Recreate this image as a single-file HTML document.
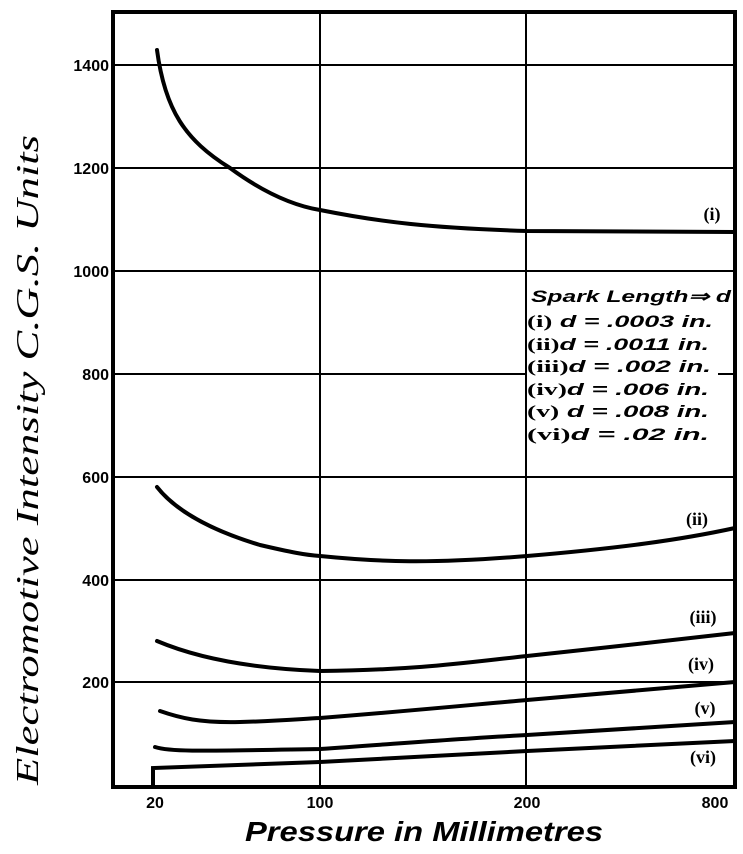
<!DOCTYPE html>
<html><head><meta charset="utf-8"><style>
body{margin:0;background:#fff}
svg{display:block}
.t{font-family:"Liberation Sans",sans-serif;font-weight:bold;font-size:16px}
.r{font-family:"Liberation Serif",serif;font-weight:bold;font-size:18px}
.lg{font-family:"Liberation Sans",sans-serif;font-weight:bold;font-style:italic;font-size:17px}
.ls{font-family:"Liberation Serif",serif;font-style:normal;font-size:17px}
</style></head><body>
<svg width="743" height="854" viewBox="0 0 743 854" xmlns="http://www.w3.org/2000/svg">
<g stroke="#000" fill="none">
<g stroke-width="2">
<line x1="113" y1="65" x2="735" y2="65"/>
<line x1="113" y1="168" x2="735" y2="168"/>
<line x1="113" y1="271" x2="735" y2="271"/>
<line x1="113" y1="374" x2="526" y2="374"/>
<line x1="718" y1="374" x2="735" y2="374"/>
<line x1="113" y1="477" x2="735" y2="477"/>
<line x1="113" y1="580" x2="735" y2="580"/>
<line x1="113" y1="682" x2="735" y2="682"/>
<line x1="320" y1="12" x2="320" y2="787"/>
<line x1="526" y1="12" x2="526" y2="787"/>
</g>
<rect x="113" y="12" width="622" height="775" stroke-width="4"/>
<g stroke-width="4" stroke-linecap="round">
<path d="M157,50 C165,110 185,140 230,168 C260,190 290,205 320,210 C380,222 430,228 527,231 L735,232"/>
<path d="M157,487 C175,510 210,530 260,545 C290,552 305,555 320,556 C380,562 430,564 527,556 C620,548 680,540 735,528"/>
<path d="M157,641 C190,655 240,668 320,671 C420,670 470,662 527,656 C600,648 650,643 735,633"/>
<path d="M160,711 C180,718 200,723 240,722 C280,721 300,719 320,718 C420,710 470,705 527,700 L735,682"/>
<path d="M155,747 C170,752 200,751 320,749 C420,742 470,738 527,735 L735,722"/>
<path d="M153,787 L153,768 L320,762 L527,751 L735,741"/>
</g>
</g>
<g class="t" text-anchor="end">
<text x="109" y="71">1400</text>
<text x="109" y="174">1200</text>
<text x="109" y="277">1000</text>
<text x="109" y="380">800</text>
<text x="109" y="483">600</text>
<text x="109" y="586">400</text>
<text x="109" y="688">200</text>
</g>
<g class="t" text-anchor="middle">
<text x="155" y="808">20</text>
<text x="320" y="808">100</text>
<text x="527" y="808">200</text>
<text x="715" y="808">800</text>
</g>
<g class="r" text-anchor="middle">
<text x="712" y="220">(i)</text>
<text x="697" y="525">(ii)</text>
<text x="703" y="623">(iii)</text>
<text x="701" y="670">(iv)</text>
<text x="705" y="714">(v)</text>
<text x="703" y="763">(vi)</text>
</g>
<text class="lg" x="531" y="302" textLength="200" lengthAdjust="spacingAndGlyphs">Spark Length⇒ d</text>
<g class="lg">
<text x="527" y="327" textLength="186" lengthAdjust="spacingAndGlyphs"><tspan class="ls">(i)</tspan> d = .0003 in.</text>
<text x="527" y="350" textLength="182" lengthAdjust="spacingAndGlyphs"><tspan class="ls">(ii)</tspan>d =  .0011 in.</text>
<text x="527" y="372" textLength="184" lengthAdjust="spacingAndGlyphs"><tspan class="ls">(iii)</tspan>d =  .002 in.</text>
<text x="527" y="395" textLength="182" lengthAdjust="spacingAndGlyphs"><tspan class="ls">(iv)</tspan>d =  .006 in.</text>
<text x="527" y="417" textLength="182" lengthAdjust="spacingAndGlyphs"><tspan class="ls">(v)</tspan> d =  .008 in.</text>
<text x="527" y="440" textLength="182" lengthAdjust="spacingAndGlyphs"><tspan class="ls">(vi)</tspan>d =    .02 in.</text>
</g>
<text x="38" y="460" transform="rotate(-90 38 460)" text-anchor="middle" font-family="Liberation Serif,serif" font-style="italic" font-size="32" textLength="650" lengthAdjust="spacingAndGlyphs">Electromotive Intensity C.G.S. Units</text>
<text x="245" y="841" font-family="Liberation Sans,sans-serif" font-weight="bold" font-style="italic" font-size="28" textLength="358" lengthAdjust="spacingAndGlyphs">Pressure in Millimetres</text>
</svg>
</body></html>
